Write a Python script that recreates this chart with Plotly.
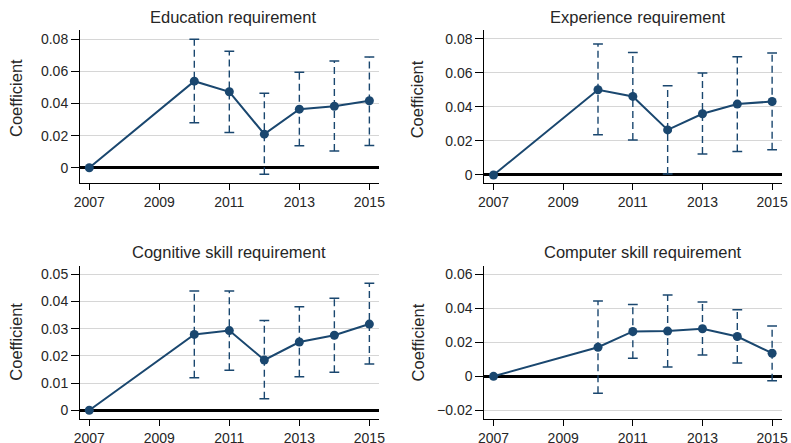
import plotly.graph_objects as go

years = [2007, 2010, 2011, 2012, 2013, 2014, 2015]

titles = ["Education requirement", "Experience requirement",
          "Cognitive skill requirement", "Computer skill requirement"]

edu_coef = [0.0, 0.0539, 0.0473, 0.0209, 0.0365, 0.0383, 0.0417]
edu_lo = [None, 0.0280, 0.0220, -0.0041, 0.0137, 0.0104, 0.0139]
edu_hi = [None, 0.0800, 0.0725, 0.0464, 0.0595, 0.0665, 0.0690]

exp_coef = [0.0, 0.0501, 0.0462, 0.0265, 0.0360, 0.0417, 0.0432]
exp_lo = [None, 0.0236, 0.0206, 0.0006, 0.0124, 0.0138, 0.0149]
exp_hi = [None, 0.0770, 0.0721, 0.0525, 0.0600, 0.0696, 0.0717]

cog_coef = [0.0, 0.0279, 0.0293, 0.0185, 0.0251, 0.0276, 0.0317]
cog_lo = [None, 0.0120, 0.0147, 0.0042, 0.0123, 0.0140, 0.0170]
cog_hi = [None, 0.0439, 0.0439, 0.0330, 0.0381, 0.0412, 0.0467]

comp_coef = [0.0, 0.0171, 0.0264, 0.0266, 0.0280, 0.0234, 0.0136]
comp_lo = [None, -0.0099, 0.0106, 0.0055, 0.0126, 0.0079, -0.0026]
comp_hi = [None, 0.0443, 0.0422, 0.0479, 0.0437, 0.0392, 0.0296]

x_tickvals = [2007, 2009, 2011, 2013, 2015]
x_ticktext = ["2007", "2009", "2011", "2013", "2015"]

y_tickvals = [
    [0, 0.02, 0.04, 0.06, 0.08],
    [0, 0.02, 0.04, 0.06, 0.08],
    [0, 0.01, 0.02, 0.03, 0.04, 0.05],
    [-0.02, 0, 0.02, 0.04, 0.06],
]
y_ticktext = [
    ["0", "0.02", "0.04", "0.06", "0.08"],
    ["0", "0.02", "0.04", "0.06", "0.08"],
    ["0", "0.01", "0.02", "0.03", "0.04", "0.05"],
    ["\u22120.02", "0", "0.02", "0.04", "0.06"],
]
y_ranges = [[-0.0097, 0.0856], [-0.0049, 0.0851], [-0.00331, 0.05316], [-0.0253, 0.0651]]

W, H = 791, 443
NAVY = "#1a476f"
FONT = "Liberation Sans, Arial, Helvetica, sans-serif"
TXT = "#262626"

panels = [
    (edu_coef, edu_lo, edu_hi),
    (exp_coef, exp_lo, exp_hi),
    (cog_coef, cog_lo, cog_hi),
    (comp_coef, comp_lo, comp_hi),
]

# pixel geometry of plot areas (left, right, top, bottom)
boxes = [
    (80, 379, 30.3, 183.3),
    (484.3, 781.7, 30.3, 183.3),
    (80, 379, 265.7, 419.3),
    (484.3, 781.7, 265.7, 419.3),
]
title_pos = [(233, 16.5), (637.7, 16.5), (228.7, 251.5), (642.5, 251.5)]
ylab_pos = [(16, 98), (417.3, 99), (16, 341.7), (417.7, 342.7)]

fig = go.Figure()
layout = dict(
    width=W, height=H, template="none",
    margin=dict(l=0, r=0, t=0, b=0),
    paper_bgcolor="white", plot_bgcolor="white",
    showlegend=False, font=dict(family=FONT, size=14, color=TXT),
)
annotations = []

for i, (coef, lo, hi) in enumerate(panels):
    n = i + 1
    xa = "x" if n == 1 else f"x{n}"
    ya = "y" if n == 1 else f"y{n}"
    ex, ey = [], []
    cx, cy = [], []
    for yr, l, h in zip(years, lo, hi):
        if l is None:
            continue
        ex += [yr, yr, None]
        ey += [l, h, None]
        cx += [yr, yr]
        cy += [l, h]
    fig.add_trace(go.Scatter(x=ex, y=ey, mode="lines", xaxis=xa, yaxis=ya,
                             line=dict(color=NAVY, width=1.4, dash="7px,4px"),
                             hoverinfo="skip"))
    fig.add_trace(go.Scatter(x=cx, y=cy, mode="markers", xaxis=xa, yaxis=ya,
                             marker=dict(symbol="line-ew", size=7,
                                         line=dict(color=NAVY, width=1.5)),
                             hoverinfo="skip"))
    fig.add_trace(go.Scatter(x=years, y=coef, mode="lines+markers", xaxis=xa, yaxis=ya,
                             line=dict(color=NAVY, width=2),
                             marker=dict(color=NAVY, size=9)))
    l, r, t, b = boxes[i]
    xkey = "xaxis" if n == 1 else f"xaxis{n}"
    ykey = "yaxis" if n == 1 else f"yaxis{n}"
    layout[xkey] = dict(
        domain=[l / W, r / W], range=[2006.735, 2015.275], anchor=ya,
        tickmode="array", tickvals=x_tickvals, ticktext=x_ticktext,
        ticks="outside", ticklen=6, tickwidth=1, tickcolor="black",
        showline=True, linecolor="black", linewidth=1, mirror=False,
        showgrid=False, zeroline=False,
        tickfont=dict(family=FONT, size=14, color=TXT),
    )
    layout[ykey] = dict(
        domain=[1 - b / H, 1 - t / H], range=y_ranges[i], anchor=xa,
        tickmode="array", tickvals=y_tickvals[i], ticktext=y_ticktext[i],
        ticks="outside", ticklen=8, tickwidth=1, tickcolor="black",
        showline=True, linecolor="black", linewidth=1, mirror=False,
        showgrid=True, gridcolor="#d6d6d6", gridwidth=1,
        zeroline=True, zerolinecolor="black", zerolinewidth=2.5,
        tickfont=dict(family=FONT, size=14, color=TXT),
    )
    tx, ty = title_pos[i]
    annotations.append(dict(text=titles[i], x=tx / W, y=1 - ty / H, xref="paper", yref="paper",
                            xanchor="center", yanchor="middle", showarrow=False,
                            font=dict(family=FONT, size=16.5, color=TXT)))
    lx, ly = ylab_pos[i]
    annotations.append(dict(text="Coefficient", x=lx / W, y=1 - ly / H, xref="paper", yref="paper",
                            xanchor="center", yanchor="middle", showarrow=False, textangle=-90,
                            font=dict(family=FONT, size=16.5, color=TXT)))

layout["annotations"] = annotations
fig.update_layout(**layout)
fig.write_html("out.html", config={"displayModeBar": False},
               post_script="document.body.style.margin='0px';document.body.style.overflow='hidden';")
